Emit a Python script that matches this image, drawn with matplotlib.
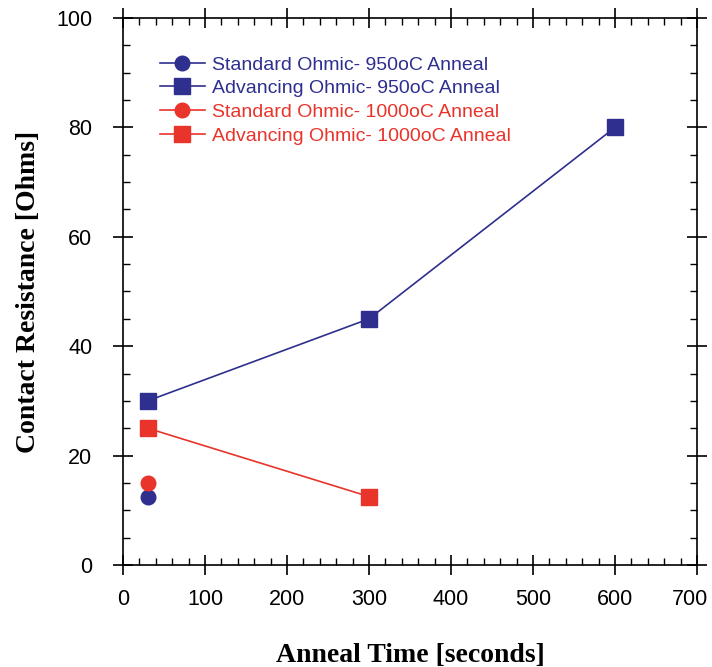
import matplotlib
matplotlib.use("Agg")
import matplotlib.pyplot as plt
from matplotlib.ticker import MultipleLocator
from matplotlib.transforms import ScaledTranslation

std950_x = [30]
std950_y = [12.5]
adv950_x = [30, 300, 600]
adv950_y = [30, 45, 80]
std1000_x = [30]
std1000_y = [15]
adv1000_x = [30, 300]
adv1000_y = [25, 12.5]

labels = ["Standard Ohmic- 950oC Anneal", "Advancing Ohmic- 950oC Anneal",
          "Standard Ohmic- 1000oC Anneal", "Advancing Ohmic- 1000oC Anneal"]
blue = "#2E2F8E"
red = "#E8342B"

fig = plt.figure(figsize=(7.12, 6.67), dpi=100)
ax = fig.add_axes([0.1728, 0.153, 0.8062, 0.82])

ax.plot(std950_x, std950_y, "-o", color=blue, ms=10.5, lw=1.2, label=labels[0])
ax.plot(adv950_x, adv950_y, "-s", color=blue, ms=12, lw=1.2, label=labels[1])
ax.plot(std1000_x, std1000_y, "-o", color=red, ms=10.5, lw=1.2, label=labels[2])
ax.plot(adv1000_x, adv1000_y, "-s", color=red, ms=12, lw=1.2, label=labels[3])

ax.set_xlim(0, 700)
ax.set_ylim(0, 100)
ax.set_xticks(range(0, 701, 100))
ax.set_yticks(range(0, 101, 20))
ax.xaxis.set_minor_locator(MultipleLocator(20))
ax.yaxis.set_minor_locator(MultipleLocator(5))
ax.tick_params(which="major", direction="inout", length=14, width=1.2,
               top=True, right=True, labelsize=15.5)
ax.tick_params(axis="x", which="major", pad=10)
ax.tick_params(axis="y", which="major", pad=15)
ax.tick_params(which="minor", direction="in", length=5, width=1.0,
               top=True, right=True)
for lab in ax.get_xticklabels() + ax.get_yticklabels():
    lab.set_family("Liberation Sans")
last = ax.xaxis.get_major_ticks()[-1].label1
last.set_transform(last.get_transform() +
                   ScaledTranslation(-7 / 100, 0, fig.dpi_scale_trans))
for s in ax.spines.values():
    s.set_linewidth(1.2)

ax.set_xlabel("Anneal Time [seconds]", family="Liberation Serif",
              fontweight="bold", fontsize=20, labelpad=24)
ax.set_ylabel("Contact Resistance [Ohms]", family="Liberation Serif",
              fontweight="bold", fontsize=20, labelpad=11)

leg = ax.legend(loc="upper left", bbox_to_anchor=(0.0645, 0.9305), frameon=False,
                prop={"family": "Liberation Sans", "size": 14},
                handlelength=2.3, handletextpad=0.36, labelspacing=0.31,
                borderaxespad=0.0, borderpad=0.0)
for t, c in zip(leg.get_texts(), [blue, blue, red, red]):
    t.set_color(c)

fig.savefig("out.png", dpi=100)
